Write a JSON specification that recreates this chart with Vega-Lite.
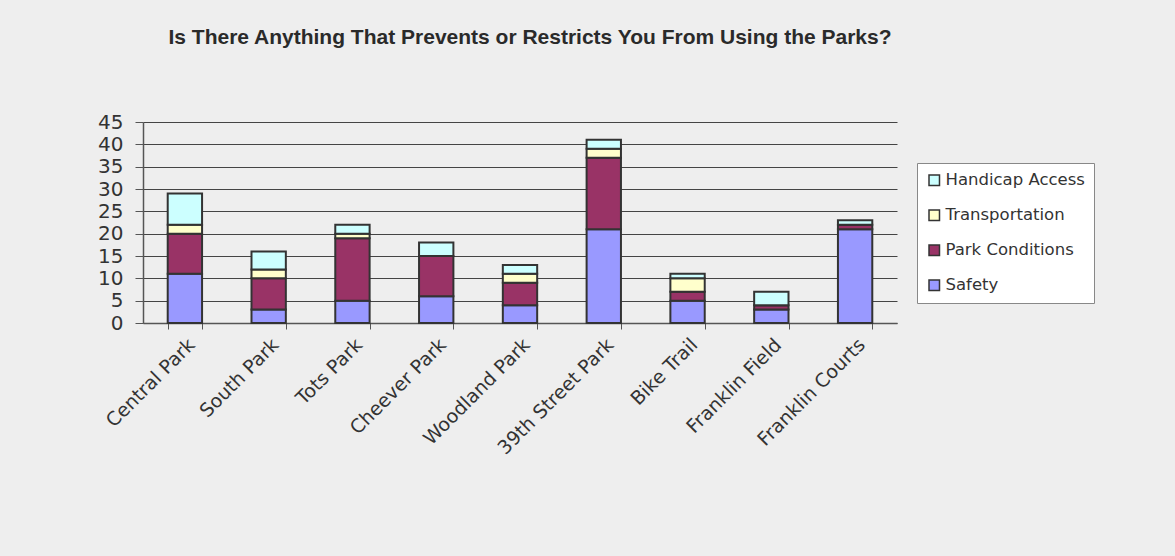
{
  "$schema": "https://vega.github.io/schema/vega-lite/v6.json",
  "width": 754,
  "height": 201,
  "autosize": "none",
  "padding": {"left": 143, "top": 122, "right": 278, "bottom": 233},
  "background": "#eeeeee",
  "title": {
    "text": "Is There Anything That Prevents or Restricts You From Using the Parks?",
    "font": "Liberation Sans",
    "fontSize": 21,
    "fontWeight": "bold",
    "color": "#2a2a2a",
    "anchor": "middle",
    "offset": 64,
    "dx": 10
  },
  "config": {
    "view": {"stroke": null},
    "axis": {"labelFont": "DejaVu Sans", "labelColor": "#333333", "domainColor": "#555555", "tickColor": "#555555"}
  },
  "data": {
    "values": [
      {"park": "Central Park", "category": "Safety", "level": 1, "count": 11},
      {"park": "Central Park", "category": "Park Conditions", "level": 2, "count": 9},
      {"park": "Central Park", "category": "Transportation", "level": 3, "count": 2},
      {"park": "Central Park", "category": "Handicap Access", "level": 4, "count": 7},
      {"park": "South Park", "category": "Safety", "level": 1, "count": 3},
      {"park": "South Park", "category": "Park Conditions", "level": 2, "count": 7},
      {"park": "South Park", "category": "Transportation", "level": 3, "count": 2},
      {"park": "South Park", "category": "Handicap Access", "level": 4, "count": 4},
      {"park": "Tots Park", "category": "Safety", "level": 1, "count": 5},
      {"park": "Tots Park", "category": "Park Conditions", "level": 2, "count": 14},
      {"park": "Tots Park", "category": "Transportation", "level": 3, "count": 1},
      {"park": "Tots Park", "category": "Handicap Access", "level": 4, "count": 2},
      {"park": "Cheever Park", "category": "Safety", "level": 1, "count": 6},
      {"park": "Cheever Park", "category": "Park Conditions", "level": 2, "count": 9},
      {"park": "Cheever Park", "category": "Transportation", "level": 3, "count": 0},
      {"park": "Cheever Park", "category": "Handicap Access", "level": 4, "count": 3},
      {"park": "Woodland Park", "category": "Safety", "level": 1, "count": 4},
      {"park": "Woodland Park", "category": "Park Conditions", "level": 2, "count": 5},
      {"park": "Woodland Park", "category": "Transportation", "level": 3, "count": 2},
      {"park": "Woodland Park", "category": "Handicap Access", "level": 4, "count": 2},
      {"park": "39th Street Park", "category": "Safety", "level": 1, "count": 21},
      {"park": "39th Street Park", "category": "Park Conditions", "level": 2, "count": 16},
      {"park": "39th Street Park", "category": "Transportation", "level": 3, "count": 2},
      {"park": "39th Street Park", "category": "Handicap Access", "level": 4, "count": 2},
      {"park": "Bike Trail", "category": "Safety", "level": 1, "count": 5},
      {"park": "Bike Trail", "category": "Park Conditions", "level": 2, "count": 2},
      {"park": "Bike Trail", "category": "Transportation", "level": 3, "count": 3},
      {"park": "Bike Trail", "category": "Handicap Access", "level": 4, "count": 1},
      {"park": "Franklin Field", "category": "Safety", "level": 1, "count": 3},
      {"park": "Franklin Field", "category": "Park Conditions", "level": 2, "count": 1},
      {"park": "Franklin Field", "category": "Transportation", "level": 3, "count": 0},
      {"park": "Franklin Field", "category": "Handicap Access", "level": 4, "count": 3},
      {"park": "Franklin Courts", "category": "Safety", "level": 1, "count": 21},
      {"park": "Franklin Courts", "category": "Park Conditions", "level": 2, "count": 1},
      {"park": "Franklin Courts", "category": "Transportation", "level": 3, "count": 0},
      {"park": "Franklin Courts", "category": "Handicap Access", "level": 4, "count": 1}
    ]
  },
  "mark": {"type": "bar", "stroke": "#333333", "strokeWidth": 2},
  "encoding": {
    "x": {
      "field": "park",
      "type": "nominal",
      "sort": null,
      "scale": {"paddingInner": 0.59, "paddingOuter": 0.295},
      "axis": {
        "title": null,
        "labelAngle": -45,
        "labelFontSize": 19,
        "labelAlign": "right",
        "labelBaseline": "top",
        "labelPadding": 6,
        "tickBand": "extent",
        "tickSize": 6,
        "domainWidth": 1.5
      }
    },
    "y": {
      "field": "count",
      "type": "quantitative",
      "stack": "zero",
      "scale": {"domain": [0, 45], "nice": false},
      "axis": {
        "title": null,
        "values": [0, 5, 10, 15, 20, 25, 30, 35, 40, 45],
        "labelFontSize": 20,
        "labelPadding": 12,
        "tickSize": 8,
        "gridColor": "#444444",
        "gridWidth": 1.2,
        "gridOpacity": 1,
        "domainWidth": 1.5
      }
    },
    "color": {
      "field": "category",
      "type": "nominal",
      "scale": {
        "domain": ["Handicap Access", "Transportation", "Park Conditions", "Safety"],
        "range": ["#ccffff", "#ffffcc", "#993366", "#9999ff"]
      },
      "legend": {
        "title": null,
        "orient": "none",
        "legendX": 774,
        "legendY": 41,
        "symbolType": "square",
        "symbolSize": 110,
        "symbolStrokeColor": "#333333",
        "symbolStrokeWidth": 1.5,
        "labelFont": "DejaVu Sans",
        "labelFontSize": 16.5,
        "labelColor": "#333333",
        "labelOffset": 3,
        "rowPadding": 18,
        "fillColor": "#ffffff",
        "strokeColor": "#888888",
        "padding": 9
      }
    },
    "order": {"field": "level", "type": "quantitative", "sort": "ascending"}
  }
}
